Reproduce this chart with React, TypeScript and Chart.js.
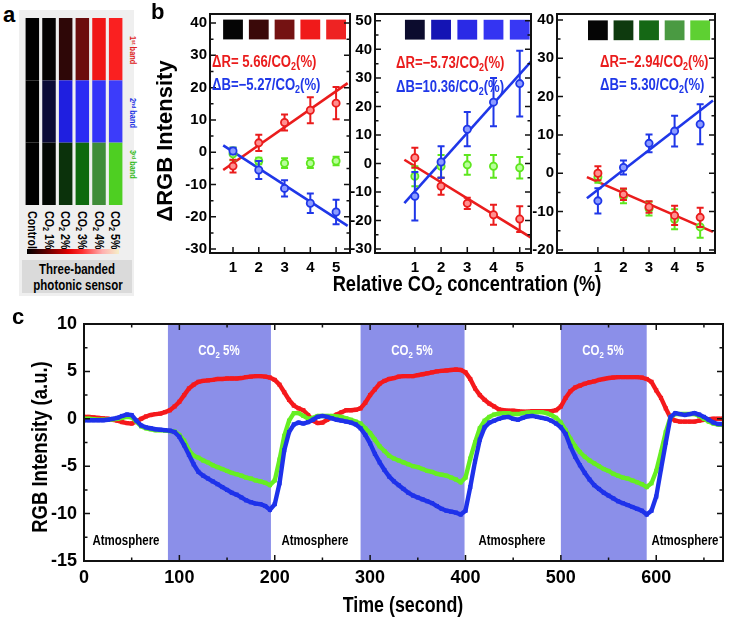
import React, { useEffect, useRef } from 'react';
import { Chart, registerables } from 'chart.js';

Chart.register(...registerables);

const FONT = "'Liberation Sans', Arial, Helvetica, sans-serif";

// ---------------- Panel a : three-banded photonic sensor ----------------
const SENSOR_SAMPLES = ['Control', 'CO2 1%', 'CO2 2%', 'CO2 3%', 'CO2 4%', 'CO2 5%'];
const BAND_LEVEL = [1, 1, 1, 1, 1, 1];
const BAND1_COLORS = ['#000000', '#050303', '#2e0707', '#6c0c0c', '#f01616', '#fa2020'];
const BAND2_COLORS = ['#000000', '#0b0b36', '#1f1fe0', '#2b2bf4', '#3434f8', '#3c3cfa'];
const BAND3_COLORS = ['#000000', '#030803', '#0b320b', '#0e6a0e', '#3f8c38', '#4ecf22'];

// ---------------- Panel b : ΔRGB vs relative CO2 ----------------
const CONC = [1, 2, 3, 4, 5];
const CONC_TICKS = [1, 2, 3, 4, 5];

// b1 (1st band)
const B1_R = [-4.3, 2.9, 9.2, 13.0, 15.2];
const B1_R_ERR = [2.0, 2.5, 2.5, 4.0, 5.0];
const B1_G = [-0.5, -2.7, -3.4, -3.4, -2.7];
const B1_G_ERR = [2.0, 1.0, 1.5, 1.5, 1.3];
const B1_B = [0.4, -5.5, -11.2, -15.8, -18.5];
const B1_B_ERR = [1.0, 2.8, 2.5, 3.0, 3.8];
const B1_R_FIT_X = [0.62, 5.45];
const B1_R_FIT_Y = [-5.5, 21.4];
const B1_B_FIT_X = [0.62, 5.45];
const B1_B_FIT_Y = [2.1, -22.8];
const B1_SWATCH = ['#050505', '#3a0909', '#741212', '#f01a1a', '#ee2323'];
const B1_SWATCH_Y = [38, 38, 38, 38, 38];
const B1_Y_TICKS = [-30, -20, -10, 0, 10, 20, 30, 40];
const B1_Y_MINOR = [-25, -15, -5, 5, 15, 25, 35];

// b2 (2nd band)
const B2_R = [2, -8, -14, -18, -19.5];
const B2_R_ERR = [3.5, 3, 2, 3.5, 4.5];
const B2_G = [-4.5, -1, -0.5, -1, -1.5];
const B2_G_ERR = [3.5, 4, 3.5, 4, 3.8];
const B2_B = [-11.5, 0.5, 12, 21.5, 28];
const B2_B_ERR = [8.5, 5.5, 6, 8.5, 11.5];
const B2_R_FIT_X = [0.6, 5.43];
const B2_R_FIT_Y = [1.3, -26];
const B2_B_FIT_X = [0.6, 5.43];
const B2_B_FIT_Y = [-13.9, 35.7];
const B2_SWATCH = ['#0c0c2e', '#1414b4', '#2a2ae6', '#3434f2', '#3838f4'];
const B2_SWATCH_Y = [46.9, 46.9, 46.9, 46.9, 46.9];
const B2_Y_TICKS = [-30, -20, -10, 0, 10, 20, 30, 40, 50];
const B2_Y_MINOR = [-25, -15, -5, 5, 15, 25, 35, 45];

// b3 (3rd band)
const B3_R = [0, -5.5, -8.8, -11, -11.5];
const B3_R_ERR = [1.8, 1.5, 1.5, 2.5, 2.5];
const B3_G = [-1, -6, -9.2, -12, -14];
const B3_G_ERR = [1.5, 1.8, 1.8, 2.6, 2.8];
const B3_B = [-7.2, 1.5, 7.8, 11, 12.8];
const B3_B_ERR = [3.3, 1.8, 2.3, 4, 5.2];
const B3_R_FIT_X = [0.57, 5.5];
const B3_R_FIT_Y = [-1, -15.3];
const B3_B_FIT_X = [0.57, 5.5];
const B3_B_FIT_Y = [-6.5, 19];
const B3_SWATCH = ['#050505', '#0e3a0e', '#156815', '#4a9a42', '#5ed032'];
const B3_SWATCH_Y = [37.3, 37.3, 37.3, 37.3, 37.3];
const B3_Y_TICKS = [-20, -10, 0, 10, 20, 30, 40];
const B3_Y_MINOR = [-15, -5, 5, 15, 25, 35];

// ---------------- Panel c : time response ----------------
const TIME = [
  0, 5, 10, 15, 20, 25, 30, 35, 40, 45,
  50, 55, 60, 65, 70, 75, 80, 85, 90, 95,
  100, 105, 110, 115, 120, 125, 130, 135, 140, 145,
  150, 155, 160, 165, 170, 175, 180, 185, 190, 195,
  200, 205, 210, 215, 220, 225, 230, 235, 240, 245,
  250, 255, 260, 265, 270, 275, 280, 285, 290, 295,
  300, 305, 310, 315, 320, 325, 330, 335, 340, 345,
  350, 355, 360, 365, 370, 375, 380, 385, 390, 395,
  400, 405, 410, 415, 420, 425, 430, 435, 440, 445,
  450, 455, 460, 465, 470, 475, 480, 485, 490, 495,
  500, 505, 510, 515, 520, 525, 530, 535, 540, 545,
  550, 555, 560, 565, 570, 575, 580, 585, 590, 595,
  600, 605, 610, 615, 620, 625, 630, 635, 640, 645,
  650, 655, 660, 665, 670,
];
const RED_C = [
  0.2, 0.2, 0.15, 0.1, 0.05, 0, -0.1, -0.2, -0.35, -0.45,
  -0.5, -0.3, 0, 0.25, 0.4, 0.5, 0.55, 0.7, 0.9, 1.3,
  1.8, 2.5, 3.2, 3.6, 3.9, 4, 4.05, 4.1, 4.2, 4.2,
  4.25, 4.25, 4.25, 4.3, 4.4, 4.45, 4.5, 4.5, 4.45, 4.35,
  4.1, 3.6, 2.8, 2, 1.4, 1.1, 0.9, 0.4, -0.2, -0.45,
  -0.4, -0.1, 0.2, 0.45, 0.7, 0.9, 0.9, 0.95, 1.1, 1.7,
  2.5, 3.1, 3.7, 4, 4.2, 4.3, 4.45, 4.5, 4.5, 4.5,
  4.6, 4.7, 4.8, 4.9, 5, 5.05, 5.1, 5.15, 5.2, 5.15,
  4.9, 4.2, 3.2, 2.5, 2, 1.6, 1.3, 1, 0.9, 0.85,
  0.85, 0.8, 0.75, 0.75, 0.8, 0.8, 0.8, 0.8, 0.8, 0.9,
  1.3, 2.2, 2.9, 3.3, 3.5, 3.7, 3.85, 3.95, 4.1, 4.2,
  4.3, 4.35, 4.4, 4.4, 4.4, 4.4, 4.4, 4.35, 4.2, 3.9,
  3, 2.2, 1.1, 0.1, -0.2, -0.3, -0.3, -0.3, -0.3, -0.2,
  -0.1, -0.05, 0, 0, 0,
];
const GREEN_C = [
  0, 0, -0.05, -0.1, -0.1, -0.1, -0.05, 0, 0.1, 0.2,
  0.15, -0.3, -0.8, -1, -1.1, -1.2, -1.2, -1.25, -1.3, -1.35,
  -1.7, -2.3, -3.3, -3.9, -4.1, -4.4, -4.6, -4.9, -5.1, -5.3,
  -5.5, -5.7, -5.85, -6, -6.2, -6.3, -6.5, -6.6, -6.75, -7,
  -6.5, -4.3, -1.8, -0.2, 0.6, 0.6, 0.3, 0, 0.1, 0.3,
  0.3, 0.3, 0.3, 0.25, 0.2, 0.05, -0.1, -0.3, -0.5, -1,
  -1.5, -2.2, -2.9, -3.4, -3.9, -4.2, -4.4, -4.6, -4.8, -5,
  -5.1, -5.3, -5.5, -5.6, -5.8, -5.9, -6, -6.2, -6.4, -6.7,
  -6.2, -4.2, -2.5, -1, -0.2, 0.2, 0.45, 0.55, 0.6, 0.6,
  0.5, 0.5, 0.6, 0.65, 0.7, 0.7, 0.7, 0.6, 0.4, 0.1,
  -0.4, -1.2, -2.1, -2.9, -3.5, -4, -4.4, -4.7, -5, -5.3,
  -5.5, -5.8, -6, -6.2, -6.3, -6.5, -6.7, -6.9, -7.2, -6.8,
  -5.5, -3.5, -1.4, 0.2, 0.5, 0.5, 0.5, 0.5, 0.5, 0.3,
  0, -0.3, -0.5, -0.6, -0.65,
];
const BLUE_C = [
  -0.15, -0.15, -0.15, -0.15, -0.15, -0.1, 0, 0.1, 0.3, 0.45,
  0.4, -0.2, -0.7, -0.9, -1, -1.1, -1.15, -1.2, -1.25, -1.4,
  -1.9, -2.8, -3.8, -4.8, -5.6, -6, -6.3, -6.6, -6.9, -7.2,
  -7.5, -7.8, -8, -8.3, -8.6, -8.8, -8.95, -9, -9.2, -9.6,
  -9, -6.8, -3.3, -1.4, -0.6, -0.4, -0.5, -0.35, -0.1, 0.2,
  0.3, 0.2, 0.05, -0.1, -0.2, -0.3, -0.4, -0.6, -1, -1.7,
  -2.6, -3.7, -4.6, -5.4, -6.1, -6.6, -7, -7.4, -7.8, -8.1,
  -8.3, -8.5, -8.7, -8.9, -9.2, -9.5, -9.7, -9.8, -9.9, -10.1,
  -9.7, -7.2, -4.5, -2.2, -0.9, -0.4, -0.2, 0, 0.15, 0.2,
  0, -0.1, 0.1, 0.25, 0.3, 0.2, 0.1, 0, -0.2, -0.5,
  -0.9, -1.6, -2.9, -4, -4.9, -5.7, -6.4, -7, -7.4, -7.8,
  -8.1, -8.4, -8.7, -8.9, -9.1, -9.3, -9.5, -9.7, -10.1, -9.7,
  -8.2, -5.3, -2.5, 0.2, 0.6, 0.5, 0.4, 0.5, 0.6, 0.45,
  0.2, -0.1, -0.4, -0.55, -0.55,
];
const CO2_START = [88, 290, 500];
const CO2_END = [196, 399, 590];
const C_X_TICKS = [0, 100, 200, 300, 400, 500, 600];
const C_X_MINOR = [50, 150, 250, 350, 450, 550, 650];
const C_Y_TICKS = [-15, -10, -5, 0, 5, 10];
const C_Y_MINOR = [-12.5, -7.5, -2.5, 2.5, 7.5];

// ---------------- colours ----------------
const RED = '#ea1c1c';
const GREEN = '#5ee61e';
const BLUE = '#1f37e8';
const RED_FILL = '#ff8f8f';
const GREEN_FILL = '#b8ff9a';
const BLUE_FILL = '#8c9cff';
const C_RED = '#f5191c';
const C_GREEN = '#66ee22';
const C_BLUE = '#1e32ea';
const SHADE = '#8b8fe9';

// ---------------- plugins ----------------
function framePlugin(cfg: any) {
  return {
    id: 'frameTicks',
    afterDatasetsDraw(chart: any) {
      const { ctx, chartArea: a } = chart;
      const xs = chart.scales.x;
      const ys = chart.scales.y;
      const L = cfg.len ?? 6;
      const l = cfg.minorLen ?? 3.5;
      ctx.save();
      ctx.strokeStyle = '#111';
      ctx.lineWidth = cfg.lw ?? 1.5;
      ctx.beginPath();
      const yTick = (v: number, len: number) => {
        const p = ys.getPixelForValue(v);
        ctx.moveTo(a.left, p); ctx.lineTo(a.left + len, p);
        ctx.moveTo(a.right, p); ctx.lineTo(a.right - len, p);
      };
      const xTick = (v: number, len: number) => {
        const p = xs.getPixelForValue(v);
        ctx.moveTo(p, a.bottom); ctx.lineTo(p, a.bottom - len);
        if (cfg.top) { ctx.moveTo(p, a.top); ctx.lineTo(p, a.top + len); }
      };
      (cfg.yMajor || []).forEach((v: number) => yTick(v, L));
      (cfg.yMinor || []).forEach((v: number) => yTick(v, l));
      (cfg.xMajor || []).forEach((v: number) => xTick(v, L));
      (cfg.xMinor || []).forEach((v: number) => xTick(v, l));
      ctx.stroke();
      ctx.lineWidth = cfg.frameLw ?? 2;
      ctx.strokeRect(a.left, a.top, a.right - a.left, a.bottom - a.top);
      ctx.restore();
    },
  };
}

const errorBarPlugin = {
  id: 'errorBars',
  beforeDatasetDraw(chart: any, args: any) {
    const ds = chart.data.datasets[args.index];
    if (!ds.errors) return;
    const { ctx } = chart;
    const xs = chart.scales.x;
    const ys = chart.scales.y;
    ctx.save();
    ctx.strokeStyle = ds.borderColor;
    ctx.lineWidth = 2;
    ctx.beginPath();
    ds.data.forEach((pt: any, i: number) => {
      const e = ds.errors[i];
      const px = xs.getPixelForValue(pt.x);
      const y1 = ys.getPixelForValue(pt.y + e);
      const y2 = ys.getPixelForValue(pt.y - e);
      ctx.moveTo(px, y1); ctx.lineTo(px, y2);
      ctx.moveTo(px - 3.5, y1); ctx.lineTo(px + 3.5, y1);
      ctx.moveTo(px - 3.5, y2); ctx.lineTo(px + 3.5, y2);
    });
    ctx.stroke();
    ctx.restore();
  },
};

const shadePlugin = {
  id: 'co2Shade',
  beforeDatasetsDraw(chart: any) {
    const { ctx, chartArea: a } = chart;
    const xs = chart.scales.x;
    ctx.save();
    ctx.fillStyle = SHADE;
    CO2_START.forEach((s, i) => {
      const x0 = xs.getPixelForValue(s);
      const x1 = xs.getPixelForValue(CO2_END[i]);
      ctx.fillRect(x0, a.top, x1 - x0, a.bottom - a.top);
    });
    ctx.restore();
  },
};

// ---------------- chart configs ----------------
const noInteract = {
  animation: false,
  responsive: false,
  maintainAspectRatio: false,
  events: [],
  plugins: { legend: { display: false }, tooltip: { enabled: false } },
};

function aConfig() {
  const mk = (colors: string[]) => ({
    data: BAND_LEVEL,
    backgroundColor: colors,
    borderWidth: 0,
    barPercentage: 0.81,
    categoryPercentage: 1,
  });
  return {
    type: 'bar',
    data: {
      labels: SENSOR_SAMPLES,
      datasets: [mk(BAND3_COLORS), mk(BAND2_COLORS), mk(BAND1_COLORS)],
    },
    options: {
      ...noInteract,
      layout: { padding: 0 },
      scales: {
        x: { display: false, stacked: true },
        y: { display: false, stacked: true, min: 0, max: 3 },
      },
    },
  };
}

function bConfig(p: any) {
  const pts = (vals: number[], errs: number[], color: string, fill: string) => ({
    data: CONC.map((x, i) => ({ x, y: vals[i] })),
    errors: errs,
    borderColor: color,
    pointBorderColor: color,
    pointBackgroundColor: fill,
    pointRadius: 3.6,
    pointBorderWidth: 1.8,
    showLine: false,
  });
  const fit = (xs: number[], ys: number[], color: string) => ({
    data: xs.map((x, i) => ({ x, y: ys[i] })),
    borderColor: color,
    borderWidth: 2.6,
    pointRadius: 0,
    showLine: true,
  });
  const tickFont = { family: FONT, size: 15, weight: 'bold' };
  return {
    type: 'scatter',
    data: {
      datasets: [
        pts(p.blue, p.blueErr, BLUE, BLUE_FILL),
        pts(p.red, p.redErr, RED, RED_FILL),
        pts(p.green, p.greenErr, GREEN, GREEN_FILL),
        fit(p.bFitX, p.bFitY, BLUE),
        fit(p.rFitX, p.rFitY, RED),
        {
          data: CONC.map((x, i) => ({ x, y: p.swatchY[i] })),
          pointStyle: 'rect',
          pointRadius: 14,
          pointBorderWidth: 0,
          pointBackgroundColor: p.swatch,
          showLine: false,
        },
      ],
    },
    options: {
      ...noInteract,
      layout: { padding: { top: 12, right: 2, left: 0, bottom: 0 } },
      scales: {
        x: {
          type: 'linear', min: p.xMin, max: p.xMax,
          afterBuildTicks: (s: any) => { s.ticks = CONC_TICKS.map((v) => ({ value: v })); },
          afterFit: (s: any) => { s.height = 22; },
          grid: { display: false, drawTicks: false },
          border: { display: false },
          ticks: { font: tickFont, color: '#000', padding: 6, autoSkip: false, maxRotation: 0 },
        },
        y: {
          type: 'linear', min: p.yMin, max: p.yMax,
          afterBuildTicks: (s: any) => { s.ticks = p.yTicks.map((v: number) => ({ value: v })); },
          afterFit: (s: any) => { s.width = 40; },
          grid: { display: false, drawTicks: false },
          border: { display: false },
          ticks: { font: tickFont, color: '#000', padding: 3, autoSkip: false },
        },
      },
    },
    plugins: [errorBarPlugin, framePlugin({ yMajor: p.yTicks, yMinor: p.yMinor, xMajor: CONC_TICKS })],
  };
}

function cConfig() {
  const series = (vals: number[], color: string) => ({
    data: TIME.map((t, i) => ({ x: t, y: vals[i] })),
    borderColor: color,
    borderWidth: 4.4,
    pointStyle: 'rect',
    pointRadius: 2.9,
    pointBorderWidth: 0,
    pointBackgroundColor: color,
    tension: 0,
  });
  const tickFont = { family: FONT, size: 18, weight: 'bold' };
  return {
    type: 'line',
    data: { datasets: [series(BLUE_C, C_BLUE), series(GREEN_C, C_GREEN), series(RED_C, C_RED)] },
    options: {
      ...noInteract,
      layout: { padding: { top: 24, right: 6, left: 0, bottom: 0 } },
      scales: {
        x: {
          type: 'linear', min: 0, max: 670,
          afterBuildTicks: (s: any) => { s.ticks = C_X_TICKS.map((v) => ({ value: v })); },
          afterFit: (s: any) => { s.height = 35; },
          grid: { display: false, drawTicks: false },
          border: { display: false },
          ticks: { font: tickFont, color: '#000', padding: 6, autoSkip: false, maxRotation: 0 },
        },
        y: {
          type: 'linear', min: -15, max: 10,
          afterBuildTicks: (s: any) => { s.ticks = C_Y_TICKS.map((v) => ({ value: v })); },
          afterFit: (s: any) => { s.width = 48; },
          grid: { display: false, drawTicks: false },
          border: { display: false },
          ticks: { font: tickFont, color: '#000', padding: 7, autoSkip: false },
        },
      },
    },
    plugins: [shadePlugin, framePlugin({ yMajor: C_Y_TICKS, yMinor: C_Y_MINOR, xMajor: C_X_TICKS, xMinor: C_X_MINOR, top: true })],
  };
}

// ---------------- components ----------------
function ChartBox({ left, top, width, height, make }: { left: number; top: number; width: number; height: number; make: () => any }) {
  const ref = useRef<HTMLCanvasElement>(null);
  useEffect(() => {
    const chart = new Chart(ref.current as HTMLCanvasElement, make());
    return () => chart.destroy();
  }, []);
  return (
    <div style={{ position: 'absolute', left, top, width, height }}>
      <canvas ref={ref} width={width} height={height} style={{ width, height, display: 'block' }} />
    </div>
  );
}

function Sub({ children }: { children: React.ReactNode }) {
  return <span style={{ fontSize: '0.68em', verticalAlign: '-0.28em', lineHeight: 0 }}>{children}</span>;
}
function Sup({ children }: { children: React.ReactNode }) {
  return <span style={{ fontSize: '0.68em', verticalAlign: '0.4em', lineHeight: 0 }}>{children}</span>;
}

function co2Label(s: string) {
  if (s.startsWith('CO2')) {
    return <>CO<Sub>2</Sub>{s.slice(3)}</>;
  }
  return s;
}

type TxtProps = {
  x: number; y: number; size: number; color?: string; center?: boolean;
  rotate?: number; sx?: number; children: React.ReactNode;
};
// Text; when center is set, (x, y) is the centre of the text; otherwise the top-left corner.
function Txt({ x, y, size, color = '#000', center = false, rotate, sx = 1, children }: TxtProps) {
  const scale = sx !== 1 ? ` scaleX(${sx})` : '';
  const transform = center
    ? 'translate(-50%,-50%)' + (rotate ? ` rotate(${rotate}deg)` : '') + scale
    : scale || undefined;
  return (
    <div
      style={{
        position: 'absolute', left: x, top: y, fontSize: size, lineHeight: `${size}px`,
        fontFamily: FONT, fontWeight: 700, color, whiteSpace: 'nowrap', transform,
        transformOrigin: center ? 'center center' : 'left top',
      }}
    >
      {children}
    </div>
  );
}

// Text turned 90° clockwise (reads top to bottom), centred on column cx, starting at top.
function DownTxt({ cx, top, size, color = '#000', sx = 0.82, children }: { cx: number; top: number; size: number; color?: string; sx?: number; children: React.ReactNode }) {
  const h = size + 2;
  return (
    <div
      style={{
        position: 'absolute', left: cx + h / 2, top, height: h, fontSize: size, lineHeight: `${h}px`,
        fontFamily: FONT, fontWeight: 700, color, whiteSpace: 'nowrap',
        transformOrigin: 'left top', transform: `rotate(90deg) scaleX(${sx})`,
      }}
    >
      {children}
    </div>
  );
}

const STRIPE_CENTERS = [32.3, 49, 65.7, 82.3, 99, 115.7];
const N = 0.82; // horizontal condensing to mimic a narrow face

export default function App() {
  return (
    <div
      style={{
        position: 'absolute', left: 0, top: 0, width: 729, height: 620, background: '#fff',
        overflow: 'hidden', fontFamily: FONT,
      }}
    >
      {/* ---------- panel a ---------- */}
      <div style={{ position: 'absolute', left: 19, top: 10, width: 115, height: 286, background: '#efefef' }} />
      <div style={{ position: 'absolute', left: 22, top: 260, width: 110, height: 33, background: '#dadada' }} />
      <ChartBox left={24} top={18} width={100} height={187} make={aConfig} />
      {SENSOR_SAMPLES.map((s, i) => (
        <DownTxt key={s} cx={STRIPE_CENTERS[i]} top={211} size={13}>{co2Label(s)}</DownTxt>
      ))}
      <div
        style={{
          position: 'absolute', left: 27, top: 249, width: 92, height: 5,
          background: 'linear-gradient(to right, #000 0%, #5a0000 20%, #e00000 45%, #ff3030 60%, #ffb0b0 82%, #f6efc8 100%)',
        }}
      />
      <Txt x={77} y={269} size={14} center sx={N}>Three-banded</Txt>
      <Txt x={78} y={285} size={14} center sx={N}>photonic sensor</Txt>
      <DownTxt cx={132} top={36} size={9} color="#e02020">1<Sup>st</Sup> band</DownTxt>
      <DownTxt cx={132} top={98} size={9} color="#2233e6">2<Sup>nd</Sup> band</DownTxt>
      <DownTxt cx={132} top={150} size={9} color="#33bb22">3<Sup>rd</Sup> band</DownTxt>
      <Txt x={3} y={4} size={22}>a</Txt>

      {/* ---------- panel b ---------- */}
      <ChartBox
        left={170} top={0} width={194} height={275}
        make={() => bConfig({
          red: B1_R, redErr: B1_R_ERR, green: B1_G, greenErr: B1_G_ERR, blue: B1_B, blueErr: B1_B_ERR,
          rFitX: B1_R_FIT_X, rFitY: B1_R_FIT_Y, bFitX: B1_B_FIT_X, bFitY: B1_B_FIT_Y,
          swatch: B1_SWATCH, swatchY: B1_SWATCH_Y, xMin: 0.107, xMax: 5.54, yMin: -31.2, yMax: 42.8,
          yTicks: B1_Y_TICKS, yMinor: B1_Y_MINOR,
        })}
      />
      <ChartBox
        left={335} top={0} width={210} height={275}
        make={() => bConfig({
          red: B2_R, redErr: B2_R_ERR, green: B2_G, greenErr: B2_G_ERR, blue: B2_B, blueErr: B2_B_ERR,
          rFitX: B2_R_FIT_X, rFitY: B2_R_FIT_Y, bFitX: B2_B_FIT_X, bFitY: B2_B_FIT_Y,
          swatch: B2_SWATCH, swatchY: B2_SWATCH_Y, xMin: -0.52, xMax: 5.43, yMin: -31.4, yMax: 52.4,
          yTicks: B2_Y_TICKS, yMinor: B2_Y_MINOR,
        })}
      />
      <ChartBox
        left={517} top={0} width={212} height={275}
        make={() => bConfig({
          red: B3_R, redErr: B3_R_ERR, green: B3_G, greenErr: B3_G_ERR, blue: B3_B, blueErr: B3_B_ERR,
          rFitX: B3_R_FIT_X, rFitY: B3_R_FIT_Y, bFitX: B3_B_FIT_X, bFitY: B3_B_FIT_Y,
          swatch: B3_SWATCH, swatchY: B3_SWATCH_Y, xMin: -0.6, xMax: 5.58, yMin: -20.8, yMax: 41.55,
          yTicks: B3_Y_TICKS, yMinor: B3_Y_MINOR,
        })}
      />
      <Txt x={212} y={54} size={16} sx={N} color={RED}>ΔR= 5.66/CO<Sub>2</Sub>(%)</Txt>
      <Txt x={212} y={77} size={16} sx={N} color={BLUE}>ΔB=−5.27/CO<Sub>2</Sub>(%)</Txt>
      <Txt x={396} y={55} size={16} sx={N} color={RED}>ΔR=−5.73/CO<Sub>2</Sub>(%)</Txt>
      <Txt x={396} y={79} size={16} sx={N} color={BLUE}>ΔB=10.36/CO<Sub>2</Sub>(%)</Txt>
      <Txt x={600} y={54} size={16} sx={N} color={RED}>ΔR=−2.94/CO<Sub>2</Sub>(%)</Txt>
      <Txt x={600} y={77} size={16} sx={N} color={BLUE}>ΔB= 5.30/CO<Sub>2</Sub>(%)</Txt>
      <Txt x={165} y={141} size={22} center rotate={-90}>ΔRGB Intensity</Txt>
      <Txt x={467} y={284} size={22} center sx={0.83}>Relative CO<Sub>2</Sub> concentration (%)</Txt>
      <Txt x={151} y={1} size={22}>b</Txt>

      {/* ---------- panel c ---------- */}
      <ChartBox left={36} top={300} width={693} height={296} make={cConfig} />
      <Txt x={219} y={350} size={14} sx={N} color="#fff" center>CO<Sub>2</Sub> 5%</Txt>
      <Txt x={412} y={350} size={14} sx={N} color="#fff" center>CO<Sub>2</Sub> 5%</Txt>
      <Txt x={603} y={350} size={14} sx={N} color="#fff" center>CO<Sub>2</Sub> 5%</Txt>
      <Txt x={126} y={540} size={14} sx={N} center>Atmosphere</Txt>
      <Txt x={315} y={540} size={14} sx={N} center>Atmosphere</Txt>
      <Txt x={512} y={540} size={14} sx={N} center>Atmosphere</Txt>
      <Txt x={685} y={540} size={14} sx={N} center>Atmosphere</Txt>
      <Txt x={40} y={447} size={22} center rotate={-90} sx={0.84}>RGB Intensity (a.u.)</Txt>
      <Txt x={403} y={605} size={22} center sx={0.81}>Time (second)</Txt>
      <Txt x={12} y={306} size={22}>c</Txt>
    </div>
  );
}
